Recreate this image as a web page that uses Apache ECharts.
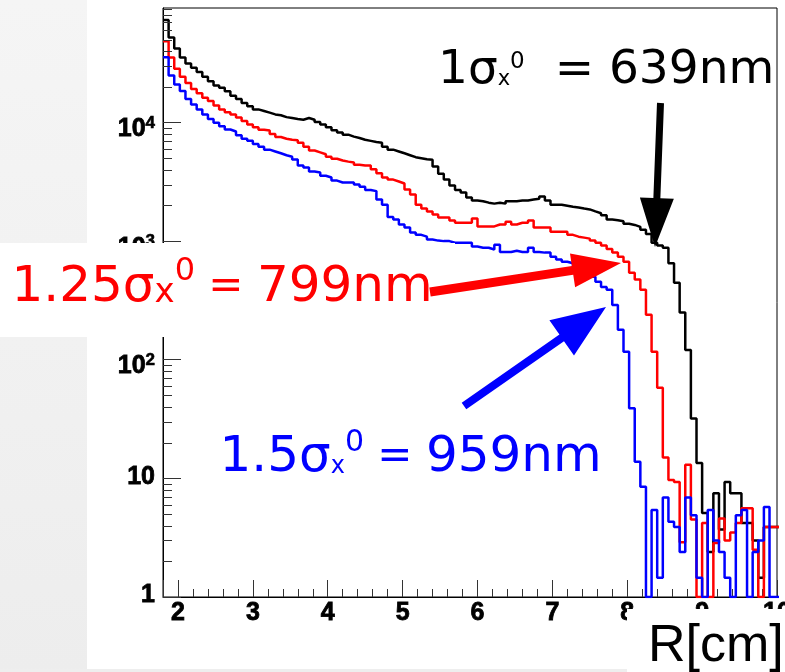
<!DOCTYPE html>
<html><head><meta charset="utf-8">
<script src="https://cdn.jsdelivr.net/npm/echarts@6/dist/echarts.min.js"></script>
<style>html,body{margin:0;padding:0;background:#fff}#c{width:785px;height:672px}</style>
</head><body><div id="c"></div>
<script>
// ---- data ----
const binStart = 1.8;      // cm, left edge of first bin
const binWidth = 0.075;    // cm
const xRange = [1.8, 10];
const yRange = [1, 92300];
const blackCounts = [
 73000,52000,42000,35300,31500,29000,26600,24300,22300,20500,
 19600,18300,16800,15800,14600,13700,12900,12500,12100,11700,
 11500,11100,10900,10700,10550,10900,10550,10100,9600,9100,
 8600,8250,7900,7600,7400,7150,7000,6850,6750,6250,
 5900,5700,5500,5300,5100,5000,4900,4850,4250,3700,
 3300,2950,2700,2570,2330,2200,2170,2110,2070,2110,
 2070,2170,2170,2200,2200,2240,2280,2380,2200,2030,
 2030,1990,1950,1920,1880,1850,1780,1720,1650,1520,
 1500,1470,1400,1370,1320,1250,1150,970,920,880,
 650,445,250,121,32,13.5,5.1,2.4,7.5,3.7,
 9.3,7.5,7.5,4.2,4.2,3.0,1.45,3.9,3.9,3.9
];
const redCounts = [
 48500,35300,28400,24300,21500,19200,17600,16200,15200,13900,
 12900,12200,11700,11000,10300,9600,9100,8700,8550,8000,
 7550,7300,7150,7100,6750,6250,5800,5600,5400,5150,
 4950,4780,4680,4600,4400,4340,4340,4030,3730,3440,
 3300,3180,3060,2720,2470,2030,1880,1780,1680,1580,
 1580,1490,1430,1430,1430,1550,1330,1330,1330,1380,
 1380,1460,1380,1430,1430,1490,1300,1300,1300,1200,
 1200,1200,1130,1090,1070,1050,1010,970,920,860,
 800,740,670,540,475,390,240,117,58,15,
 9.7,9.3,2.9,13,4.5,0,4.2,0,2.85,4.6,
 3.0,3.5,4.2,5.6,5.6,2.5,0,3.9,3.9,3.9
];
const blueCounts = [
 35400,24900,20900,18400,15800,14200,12900,11700,10700,9930,
 9300,8730,8400,7800,7300,7000,6600,6250,5900,5700,
 5500,5300,5150,4870,4340,4170,3860,3790,3560,3435,
 3240,3120,3120,3120,3000,2880,2700,2640,2240,2030,
 1600,1520,1380,1300,1180,1130,1090,1030,1010,1000,
 1000,970,970,970,970,900,880,880,850,930,
 810,810,830,810,810,880,810,800,800,740,
 700,670,650,620,570,540,500,455,410,390,
 290,179,117,39,13.8,8.5,0,5.4,1.45,6.9,
 4.3,3.9,2.4,6.9,4.9,1.45,0,5.4,3.0,2.4,
 1.45,0,4.9,5.4,0,2.4,3.0,5.75,0,0
];
const minorFactors = [2,3,4,5,6,7,8,9];
const decades = [1,10,100,1000,10000];

// ---- build ----
function steps(vals){
  const f = v => (v > 0 ? v : yRange[0]);
  const pts = vals.map((v,i)=>[+(binStart+i*binWidth).toFixed(4), f(v)]);
  pts.push([+(binStart+vals.length*binWidth).toFixed(4), f(vals[vals.length-1])]);
  return pts;
}
const minorVals = [];
decades.forEach(d=>minorFactors.forEach(k=>{ if(k*d<yRange[1]) minorVals.push([xRange[0], k*d]); }));

function arrow(x0,y0,x1,y1,sw,hl,hw){
  const dx=x1-x0, dy=y1-y0, L=Math.hypot(dx,dy), ux=dx/L, uy=dy/L, nx=-uy, ny=ux;
  const bx=x1-ux*hl, by=y1-uy*hl;
  return [[x0+nx*sw/2,y0+ny*sw/2],[bx+nx*sw/2,by+ny*sw/2],[bx+nx*hw/2,by+ny*hw/2],[x1,y1],
          [bx-nx*hw/2,by-ny*hw/2],[bx-nx*sw/2,by-ny*sw/2],[x0-nx*sw/2,y0-ny*sw/2]];
}
const AF = 'DejaVu Sans';
function label(text, x, y, color, m, s, sp, p, pp, q, qp){
  return {type:'text', x:x, y:y, z:101, style:{text:text, fill:color, fontFamily:AF, fontSize:m,
    verticalAlign:'bottom', align:'left',
    rich:{
      m:{fontFamily:AF, fontSize:m, lineHeight:m, fill:color, verticalAlign:'bottom'},
      s:{fontFamily:AF, fontSize:s, lineHeight:s, fill:color, verticalAlign:'bottom', padding:[0,0,sp,0]},
      p:{fontFamily:AF, fontSize:p, lineHeight:p, fill:color, verticalAlign:'bottom', padding:[0,0,pp,0]},
      q:{fontFamily:AF, fontSize:q, lineHeight:q, fill:color, verticalAlign:'bottom', padding:[0,0,qp,0]}
    }}};
}

const chart = echarts.init(document.getElementById('c'), null, {renderer:'canvas'});
const tickColor = '#333';
const LF = 'Liberation Sans';
chart.setOption({
  animation:false,
  backgroundColor:'#ffffff',
  grid:{left:163, top:8, right:8, bottom:75, show:true, borderColor:'#000', borderWidth:1, backgroundColor:'#fff', outerBoundsMode:'none'},
  xAxis:{type:'value', min:xRange[0], max:xRange[1], splitNumber:8,
    axisLine:{show:true, onZero:false, lineStyle:{color:'#000', width:1}},
    axisTick:{show:true, inside:true, length:17, lineStyle:{color:tickColor}},
    minorTick:{show:true, splitNumber:5, length:8, lineStyle:{color:tickColor}},
    splitLine:{show:false}, minorSplitLine:{show:false},
    axisLabel:{showMinLabel:false, margin:4, fontFamily:LF, fontWeight:'bold', fontSize:25, color:'#000',
      textBorderColor:'#000', textBorderWidth:0.8}},
  yAxis:{type:'log', logBase:10, min:yRange[0], max:yRange[1],
    axisLine:{show:true, onZero:false, lineStyle:{color:'#000', width:1}},
    axisTick:{show:true, inside:true, length:18, lineStyle:{color:tickColor}},
    splitLine:{show:false},
    axisLabel:{showMaxLabel:false, margin:8, color:'#000', textBorderColor:'#000', textBorderWidth:0.8,
      formatter:function(v){
        const e = Math.round(Math.log10(v));
        if (Math.abs(Math.pow(10,e)-v) > 1e-6*v) return '';
        if (e===0) return '{b|1}';
        if (e===1) return '{b|10}';
        return '{z| }\n{b|10}{e|'+e+'}';
      },
      rich:{
        z:{fontSize:10, lineHeight:16, textBorderWidth:0},
        b:{fontFamily:LF, fontWeight:'bold', fontSize:25, lineHeight:22, verticalAlign:'bottom', color:'#000', textBorderColor:'#000', textBorderWidth:0.8},
        e:{fontFamily:LF, fontWeight:'bold', fontSize:17, lineHeight:17, verticalAlign:'bottom', color:'#000', textBorderColor:'#000', textBorderWidth:0.6, padding:[12,0,10,0]}
      }}},
  series:[
    {type:'line', step:'end', data:steps(blackCounts), symbol:'none', clip:true, silent:true, z:3,
      lineStyle:{color:'#000000', width:2.5}},
    {type:'line', step:'end', data:steps(redCounts), symbol:'none', clip:true, silent:true, z:4,
      lineStyle:{color:'#ff0000', width:2.5}},
    {type:'line', step:'end', data:steps(blueCounts), symbol:'none', clip:true, silent:true, z:5,
      lineStyle:{color:'#0000ff', width:2.5}},
    {type:'custom', data:minorVals, silent:true, z:6, clip:false,
      renderItem:function(params, api){
        const p = api.coord([api.value(0), api.value(1)]);
        const y = Math.round(p[1]) + 0.5;
        return {type:'line', shape:{x1:p[0], y1:y, x2:p[0]+9, y2:y}, style:{stroke:tickColor, lineWidth:1}};
      }}
  ],
  graphic:{elements:[
    {type:'rect', z:0, shape:{x:0, y:0, width:87, height:672},
      style:{fill:new echarts.graphic.LinearGradient(0,0,0,1,[{offset:0,color:'#f5f5f5'},{offset:1,color:'#ededed'}])}},
    {type:'rect', z:0, shape:{x:0, y:669, width:627, height:3}, style:{fill:'#eeeeee'}},
    {type:'rect', z:100, shape:{x:0, y:243, width:455, height:94}, style:{fill:'#ffffff'}},
    {type:'rect', z:100, shape:{x:627, y:609, width:158, height:63}, style:{fill:'#ffffff'}},
    label('{m|1σ}{s|x}{p|0}{m|  = 639nm}', 438, 94, '#000000', 47, 21, 4, 23, 20, 47, 0),
    label('{m|1.25σ}{s|x}{p|0}{q| = }{m|799nm}', 11.5, 313, '#ff0000', 50, 34, 3, 32, 25, 42, 5),
    label('{m|1.5σ}{s|x}{p|0}{q| = }{m|959nm}', 219.5, 483, '#0000ff', 50, 24, 4, 30, 25, 42, 5),
    {type:'text', x:648, y:673, z:101, style:{text:'{r|R[cm]}', verticalAlign:'bottom', align:'left',
      rich:{r:{fontFamily:LF, fontSize:52, lineHeight:52, fill:'#000', verticalAlign:'bottom'}}}},
    {type:'polygon', z:102, shape:{points:arrow(660.5,103,655,247,7,49,34)}, style:{fill:'#000000'}},
    {type:'polygon', z:102, shape:{points:arrow(430,292,621,263,9,49,34)}, style:{fill:'#ff0000'}},
    {type:'polygon', z:102, shape:{points:arrow(464,406,606,307,8,54,43)}, style:{fill:'#0000ff'}}
  ]}
});
</script>
</body></html>
